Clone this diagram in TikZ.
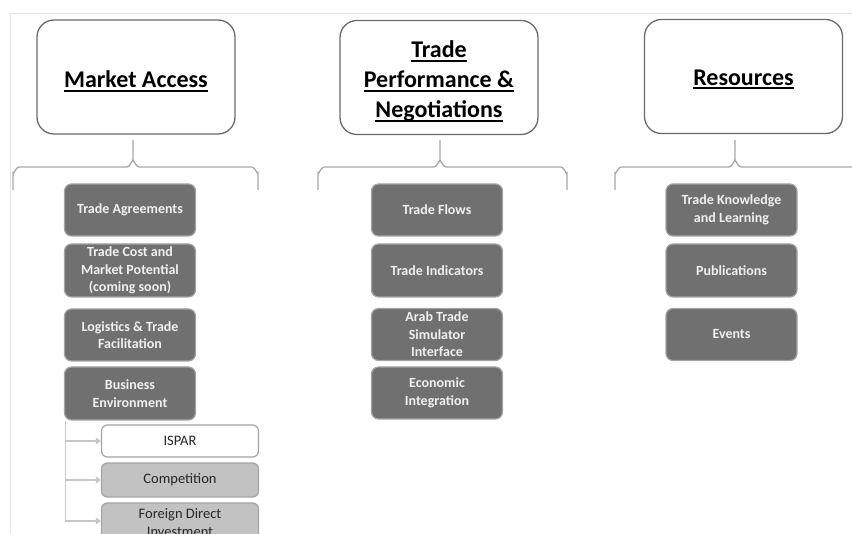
\documentclass[tikz,border=0pt]{standalone}
\usepackage{fontspec}
\setmainfont{Carlito}
\usetikzlibrary{arrows.meta}
\definecolor{boxdark}{HTML}{707070}
\definecolor{boxedge}{HTML}{A4A4A4}
\definecolor{boxlight}{HTML}{C2C2C2}
\definecolor{headedge}{HTML}{6A6A6A}
\definecolor{bracecol}{HTML}{A8A8A8}
\definecolor{framecol}{HTML}{E4E4E4}
\definecolor{subline}{HTML}{C8C8C8}
% heavy underline for the header titles
\newcommand{\headline}[1]{\setbox0\hbox{#1}\rlap{\rule[-4.2pt]{\wd0}{1.9pt}}\box0}
\begin{document}
\begin{tikzpicture}[x=1pt,y=-1pt,
  header/.style={draw=headedge, line width=1.3pt, fill=white, rounded corners=17pt,
    minimum width=198pt, minimum height=114pt},
  headtext/.style={align=center, inner sep=0pt,
    font=\fontsize{24}{30}\selectfont\bfseries, text=black},
  item/.style={draw=boxedge, line width=1.2pt, fill=boxdark, rounded corners=7pt,
    minimum width=131pt, minimum height=52pt, align=center, inner sep=0pt,
    font=\fontsize{14}{17.5}\selectfont\bfseries, text=white!94!black},
  subitem/.style={draw=boxedge, line width=1.2pt, fill=boxlight, rounded corners=6pt,
    minimum width=157pt, align=center, inner sep=0pt,
    font=\fontsize{14.5}{18}\selectfont, text=black!85},
  bracket/.style={draw=bracecol, line width=1.3pt},
  feed/.style={draw=subline, line width=1.6pt, -{Triangle[length=5pt,width=7pt]}},
  frameline/.style={draw=framecol, line width=0.8pt}]
\useasboundingbox (0,0) rectangle (852,534);
\clip (0,0) rectangle (852,534);

% page frame
\draw[frameline] (10,534) -- (10,13) -- (852,13);

% column headers
\node[header] (ma) at (136,77) {};
\node[header] (tp) at (439,77.5) {};
\node[header] (rs) at (743.5,76.5) {};
\node[headtext] (maT) at ([yshift=-4pt]ma.center) {\headline{Market Access}};
\node[headtext] (tpT) at ([yshift=-3.5pt]tp.center) {\headline{Trade}\\\headline{Performance \&}\\\headline{Negotiations}};
\node[headtext] (rsT) at ([yshift=-3pt]rs.center) {\headline{Resources}};

% brackets under the headers
\coordinate (maL) at (13,190);
\coordinate (maR) at (258,190);
\coordinate (tpL) at (318,190);
\coordinate (tpR) at (567,190);
\coordinate (rsL) at (615,190);
\coordinate (rsR) at (860,167);

\draw[bracket] (maL) -- (13,173) to[out=-90,in=180] (19,167) -- (127,167)
  to[out=0,in=90] (133,161) -- (133,140);
\draw[bracket] (133,161) to[out=90,in=180] (139,167) -- (252,167)
  to[out=0,in=-90] (258,173) -- (maR);
\draw[bracket] (tpL) -- (318,173) to[out=-90,in=180] (324,167) -- (434,167)
  to[out=0,in=90] (440,161) -- (440,140);
\draw[bracket] (440,161) to[out=90,in=180] (446,167) -- (561,167)
  to[out=0,in=-90] (567,173) -- (tpR);
\draw[bracket] (rsL) -- (615,173) to[out=-90,in=180] (621,167) -- (729,167)
  to[out=0,in=90] (735,161) -- (735,140);
\draw[bracket] (735,161) to[out=90,in=180] (741,167) -- (rsR);

% Market Access items
\node[item] (ta) at (130,210) {Trade Agreements};
\node[item, minimum height=53pt] (tc) at (130,270.5) {Trade Cost and\\Market Potential\\(coming soon)};
\node[item] (lt) at (130,335) {Logistics \& Trade\\Facilitation};
\node[item, minimum height=53pt] (be) at (130,393.5) {Business\\Environment};

% Business Environment sub-items
\node[subitem, fill=white, minimum height=32pt] (isp) at (180,441) {ISPAR};
\node[subitem, minimum height=34pt] (cmp) at (180,480) {Competition};
\node[subitem, minimum height=40pt] (fdi) at (180,523) {Foreign Direct\\Investment};

\draw[feed] ([xshift=1.5pt]be.south west) |- (isp.west);
\draw[feed] ([xshift=1.5pt]be.south west) |- (cmp.west);
\draw[feed] ([xshift=1.5pt]be.south west) |- ([yshift=2pt]fdi.west);

% Trade Performance items
\node[item] (tf) at (437,210) {Trade Flows};
\node[item, minimum height=53pt] (ti) at (437,270.5) {Trade Indicators};
\node[item] (at) at (437,334.5) {Arab Trade\\Simulator\\Interface};
\node[item] (ei) at (437,393) {Economic\\Integration};

% Resources items
\node[item] (tk) at (731.5,210) {Trade Knowledge\\and Learning};
\node[item, minimum height=53pt] (pb) at (731.5,270.5) {Publications};
\node[item] (ev) at (731.5,334.5) {Events};
\end{tikzpicture}
\end{document}
